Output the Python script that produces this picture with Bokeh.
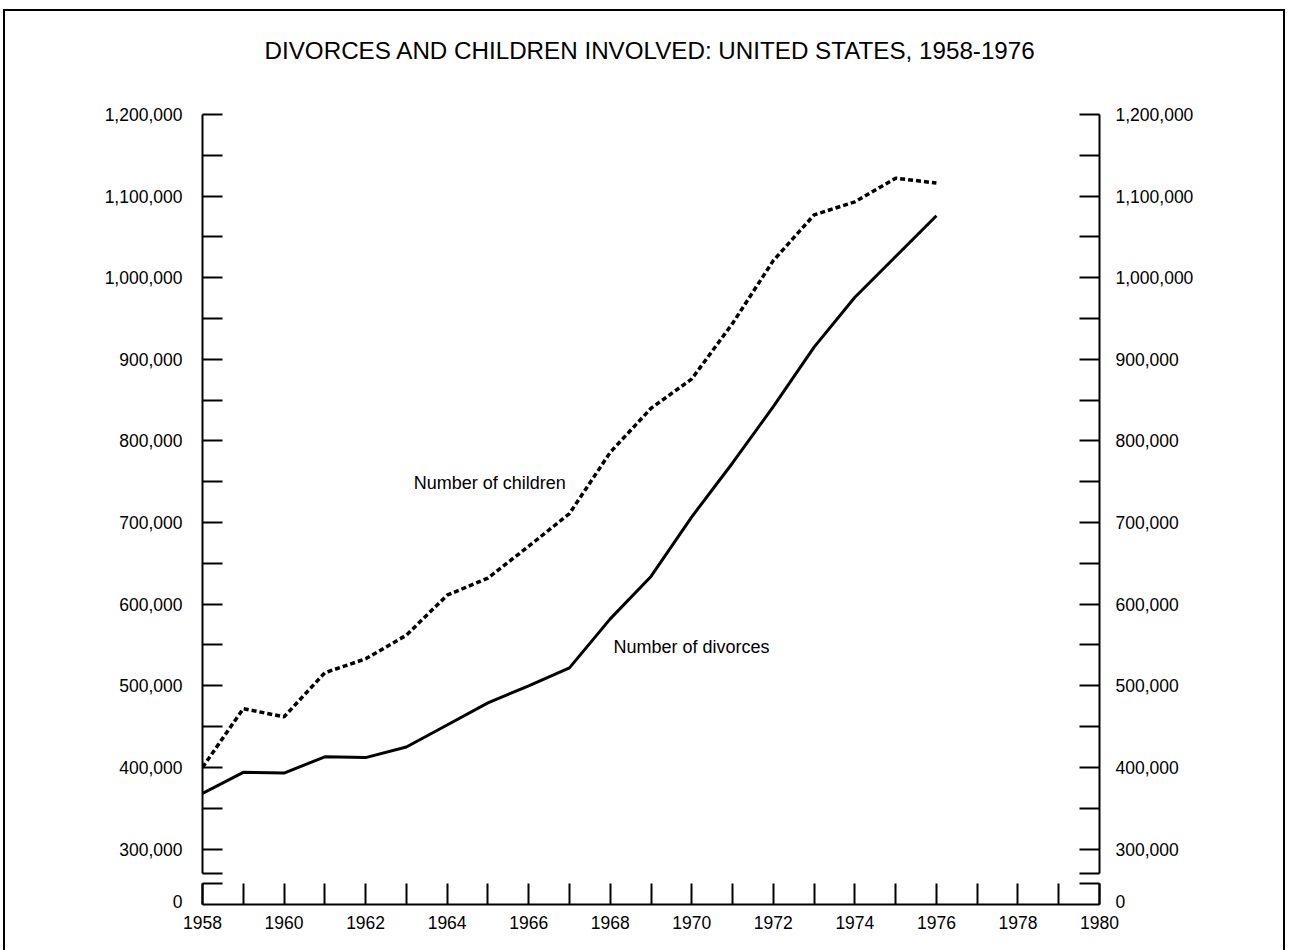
from bokeh.plotting import figure
from bokeh.models import Range1d, FixedTicker, NumeralTickFormatter, LinearAxis, Label
from bokeh.layouts import column
from bokeh.embed import file_html
from bokeh.resources import INLINE

# ---------------- data ----------------
years = [1958, 1959, 1960, 1961, 1962, 1963, 1964, 1965, 1966, 1967,
         1968, 1969, 1970, 1971, 1972, 1973, 1974, 1975, 1976]
divorces = [368000, 394000, 393000, 413000, 412000, 425000, 452000, 479000, 500000, 522000,
            582000, 634000, 707000, 773000, 842000, 915000, 976000, 1026000, 1076000]
children = [400000, 472000, 462000, 516000, 533000, 562000, 611000, 632000, 671000, 711000,
            786000, 840000, 876000, 944000, 1021000, 1077000, 1093000, 1122000, 1116000]

y_major = [300000, 400000, 500000, 600000, 700000, 800000, 900000, 1000000, 1100000, 1200000]
y_minor = [270000, 350000, 450000, 550000, 650000, 750000, 850000, 950000, 1050000, 1150000]
x_major = [1958, 1960, 1962, 1964, 1966, 1968, 1970, 1972, 1974, 1976, 1978, 1980]
x_minor = [1959, 1961, 1963, 1965, 1967, 1969, 1971, 1973, 1975, 1977, 1979]

title_text = "DIVORCES AND CHILDREN INVOLVED: UNITED STATES, 1958-1976"
label_children = "Number of children"
label_divorces = "Number of divorces"

FONT = "Liberation Sans"
W = 1278
ML, MR = 197, 184

xr = Range1d(1958, 1980)


def style_axis(ax, standoff):
    ax.axis_line_width = 2
    ax.axis_line_color = "black"
    ax.major_tick_line_width = 2
    ax.minor_tick_line_width = 2
    ax.major_tick_line_color = "black"
    ax.minor_tick_line_color = "black"
    ax.major_tick_out = 0
    ax.minor_tick_out = 0
    ax.major_label_text_font = FONT
    ax.major_label_text_font_size = "17.5px"
    ax.major_label_text_color = "black"
    ax.major_label_standoff = standoff


# ---------------- title strip ----------------
pt = figure(width=W, height=90, x_range=Range1d(0, W), y_range=Range1d(0, 90),
            output_backend="svg", toolbar_location=None,
            x_axis_location=None, y_axis_location=None, min_border=0)
pt.outline_line_color = None
pt.grid.visible = False
pt.add_layout(Label(x=638, y=51, text=title_text, text_font=FONT, text_font_size="24.2px",
                    text_color="black", text_align="center", text_baseline="alphabetic"))

# ---------------- main panel ----------------
p = figure(width=W, height=774, x_range=xr, y_range=Range1d(270000, 1200000),
           output_backend="svg", toolbar_location=None, x_axis_location=None,
           min_border_left=ML, min_border_right=MR, min_border_top=13, min_border_bottom=2)
p.outline_line_color = None
p.grid.visible = False
p.background_fill_color = "white"
p.border_fill_color = "white"

yt = FixedTicker(ticks=y_major, minor_ticks=y_minor)
fmt = NumeralTickFormatter(format="0,0")
left = p.yaxis[0]
left.ticker = yt
left.formatter = fmt
style_axis(left, 20)
left.major_tick_in = 20
left.minor_tick_in = 20

right = LinearAxis(ticker=yt, formatter=fmt)
style_axis(right, 16)
right.major_tick_in = 20
right.minor_tick_in = 20
p.add_layout(right, "right")

p.line(years, children, line_color="black", line_width=3.5, line_dash="5 3")
p.line(years, divorces, line_color="black", line_width=3)

p.add_layout(Label(x=1963.18, y=748000, text=label_children, text_font=FONT,
                   text_font_size="18px", text_color="black",
                   text_baseline="alphabetic", text_align="left"))
p.add_layout(Label(x=1968.08, y=547000, text=label_divorces, text_font=FONT,
                   text_font_size="18px", text_color="black",
                   text_baseline="alphabetic", text_align="left"))

# ---------------- bottom (zero) panel ----------------
p2 = figure(width=W, height=75, x_range=xr, y_range=Range1d(-0.2, 1),
            output_backend="svg", toolbar_location=None,
            min_border_left=ML, min_border_right=MR, min_border_top=8, min_border_bottom=46)
p2.outline_line_color = None
p2.grid.visible = False
p2.border_fill_color = "white"

xa = p2.xaxis[0]
xa.ticker = FixedTicker(ticks=x_major, minor_ticks=x_minor)
style_axis(xa, 11)
xa.major_tick_in = 21
xa.minor_tick_in = 21

zt = FixedTicker(ticks=[0], minor_ticks=[1])
l2 = p2.yaxis[0]
l2.ticker = zt
style_axis(l2, 20)
l2.major_tick_in = 0
l2.minor_tick_in = 20

r2 = LinearAxis(ticker=zt)
style_axis(r2, 16)
r2.major_tick_in = 0
r2.minor_tick_in = 20
p2.add_layout(r2, "right")

layout = column(pt, p, p2, styles={"border-top": "2px solid black",
                                   "border-left": "2px solid black",
                                   "border-right": "2px solid black",
                                   "margin-top": "9px",
                                   "margin-left": "3px"})

open("out.html", "w").write(file_html(layout, INLINE))
